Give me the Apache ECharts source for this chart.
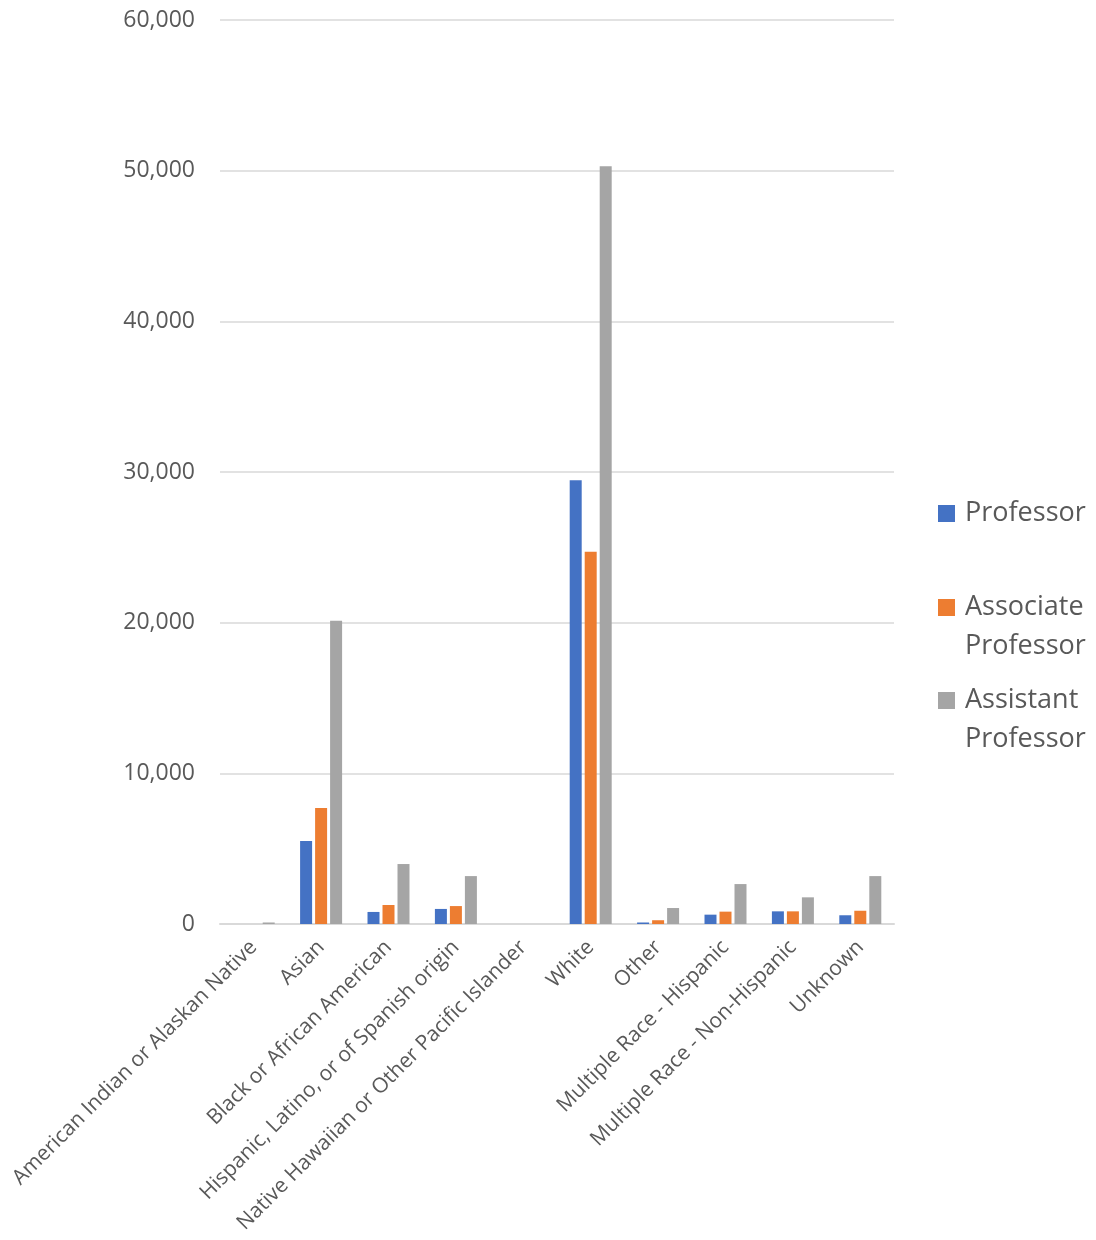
<!DOCTYPE html>
<html>
<head>
<meta charset="utf-8">
<script src="https://cdn.jsdelivr.net/npm/echarts@6/dist/echarts.min.js"></script>
<style>
  html, body { margin: 0; padding: 0; background: #fff; }
  #chart { width: 1096px; height: 1240px; }
</style>
</head>
<body>
<div id="chart"></div>
<script>
// Faculty counts by race/ethnicity and rank
const categories = [
  'American Indian or Alaskan Native',
  'Asian',
  'Black or African American',
  'Hispanic, Latino, or of Spanish origin',
  'Native Hawaiian or Other Pacific Islander',
  'White',
  'Other',
  'Multiple Race - Hispanic',
  'Multiple Race - Non-Hispanic',
  'Unknown'
];
const professor =          [0,    5510, 800,  1000, 0, 29450, 100,  620,  840,  580];
const associateProfessor = [0,    7700, 1260, 1190, 0, 24700, 250,  820,  840,  880];
const assistantProfessor = [100, 20130, 3980, 3180, 0, 50300, 1060, 2650, 1770, 3180];

const seriesNames = ['Professor', 'Associate Professor', 'Assistant Professor'];
const seriesColors = ['#4472C4', '#ED7D31', '#A5A5A5'];
const yTicks = { min: 0, max: 60000, interval: 10000 };

const FONT = '"Open Sans", "Noto Sans", sans-serif';
const TEXT = '#595959';

// Legend square sits on the first line of a two-line entry
const tallIcon = 'path://M0,0h17v17h-17z M0,56';

const chart = echarts.init(document.getElementById('chart'), null, { renderer: 'canvas' });

const legendText = {
  color: TEXT, fontFamily: FONT, fontSize: 27, lineHeight: 39,
  padding: [0, 0, 0, 5]
};

chart.setOption({
  backgroundColor: '#ffffff',
  animation: false,
  grid: { left: 220, right: 202, top: 20, bottom: 316, containLabel: false },
  legend: [
    {
      data: [seriesNames[0]],
      orient: 'vertical', left: 933, top: 489,
      icon: 'rect', itemWidth: 17, itemHeight: 17,
      textStyle: legendText
    },
    {
      data: [seriesNames[1]],
      orient: 'vertical', left: 933, top: 583,
      icon: tallIcon, itemWidth: 17, itemHeight: 56,
      formatter: n => n.replace(' ', '\n'),
      textStyle: legendText
    },
    {
      data: [seriesNames[2]],
      orient: 'vertical', left: 933, top: 676,
      icon: tallIcon, itemWidth: 17, itemHeight: 56,
      formatter: n => n.replace(' ', '\n'),
      textStyle: legendText
    }
  ],
  xAxis: {
    type: 'category',
    data: categories,
    axisLine: { lineStyle: { color: '#D9D9D9', width: 2 } },
    axisTick: { show: false },
    axisLabel: {
      rotate: 45, interval: 0, margin: 20,
      color: TEXT, fontFamily: FONT, fontSize: 21
    }
  },
  yAxis: {
    type: 'value',
    min: yTicks.min, max: yTicks.max, interval: yTicks.interval,
    axisLine: { show: false },
    axisTick: { show: false },
    splitLine: { lineStyle: { color: '#D9D9D9', width: 1.5 } },
    axisLabel: {
      margin: 25, color: TEXT, fontFamily: FONT, fontSize: 23,
      formatter: v => v.toLocaleString('en-US')
    }
  },
  series: [professor, associateProfessor, assistantProfessor].map((d, i) => ({
    name: seriesNames[i],
    type: 'bar',
    data: d,
    barWidth: 12,
    barGap: '25%',
    itemStyle: { color: seriesColors[i] }
  }))
});
</script>
</body>
</html>
